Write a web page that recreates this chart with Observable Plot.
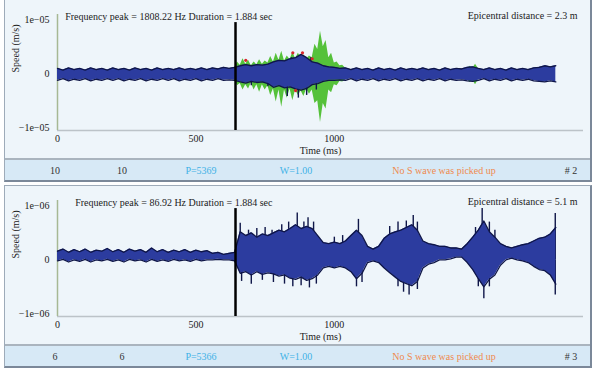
<!DOCTYPE html>
<html><head><meta charset="utf-8">
<script src="https://cdn.jsdelivr.net/npm/d3@7"></script>
<script src="https://cdn.jsdelivr.net/npm/@observablehq/plot@0.6"></script>
<style>
body{margin:0;background:#fff;width:600px;height:371px;overflow:hidden;position:relative;font-family:"Liberation Serif",serif;}
.panel{position:absolute;left:4px;width:585px;border-left:1px solid #9eabb9;border-top:1px solid #9eabb9;border-right:2px solid #7b8899;border-bottom:2px solid #7b8899;background:#eef5fa;}
.plotarea{height:158px;position:relative}
.plotarea svg{display:block}
.sep{height:2px;background:#aab4be}
.footer{height:20px;background:#d7e9f6;position:relative;font-size:10px;color:#333}
.footer span{position:absolute;top:50%;transform:translate(-50%,-50%);white-space:nowrap}
</style></head>
<body>
<div class="panel" id="p1" style="top:-1px"><div class="plotarea"></div><div class="sep"></div><div class="footer"></div></div>
<div class="panel" id="p2" style="top:185px"><div class="plotarea"></div><div class="sep"></div><div class="footer"></div></div>
<script>
// sample times (ms)
const times = [0,20,40,60,80,100,120,140,160,180,200,220,240,260,280,300,320,340,360,380,400,420,440,460,480,500,520,540,560,580,600,620,
640,660,680,700,720,740,760,780,800,820,840,860,880,900,920,940,960,980,1000,1020,
1040,1060,1080,1100,1120,1140,1160,1180,1200,1220,1240,1260,1280,1300,1320,1340,1360,1380,1400,1420,
1440,1460,1480,1500,1520,1540,1560,1580,1600,1620,1640,1660,1680,1700,1720,1740,1760,1780,1800];

// Panel #2 (epicentral 2.3 m): envelope in units of 1e-05 m/s
const p1Upper = [0.10,0.07,0.11,0.08,0.10,0.07,0.11,0.08,0.10,0.07,0.11,0.08,0.10,0.07,0.11,0.08,0.10,0.07,0.11,0.08,
0.10,0.08,0.11,0.08,0.10,0.08,0.11,0.08,0.11,0.09,0.12,0.10,
0.12,0.15,0.17,0.15,0.17,0.16,0.18,0.22,0.25,0.24,0.28,0.30,0.36,0.30,0.22,0.20,0.15,0.13,0.12,0.10,
0.11,0.08,0.11,0.08,0.10,0.07,0.11,0.08,0.10,0.07,0.11,0.08,0.10,0.08,0.11,0.08,0.10,0.07,0.11,0.08,
0.10,0.09,0.12,0.13,0.10,0.08,0.11,0.08,0.10,0.07,0.11,0.08,0.10,0.08,0.11,0.12,0.15,0.13,0.15];
const p1Lower = [-0.12,-0.09,-0.13,-0.10,-0.12,-0.09,-0.13,-0.10,-0.12,-0.09,-0.12,-0.09,-0.13,-0.10,-0.12,-0.09,-0.13,-0.10,-0.12,-0.09,
-0.12,-0.09,-0.13,-0.10,-0.12,-0.09,-0.13,-0.10,-0.12,-0.09,-0.12,-0.11,
-0.12,-0.15,-0.17,-0.14,-0.16,-0.15,-0.18,-0.25,-0.22,-0.26,-0.24,-0.28,-0.30,-0.27,-0.20,-0.18,-0.14,-0.12,-0.12,-0.11,
-0.12,-0.09,-0.13,-0.10,-0.12,-0.09,-0.13,-0.10,-0.12,-0.09,-0.13,-0.10,-0.12,-0.09,-0.13,-0.10,-0.12,-0.09,-0.13,-0.10,
-0.12,-0.11,-0.13,-0.14,-0.12,-0.09,-0.13,-0.10,-0.12,-0.09,-0.13,-0.10,-0.12,-0.10,-0.13,-0.14,-0.15,-0.13,-0.15];
// green component (finer sampling, 10 ms) and a small late burst
const p1GreenTimes = [640,650,660,670,680,690,700,710,720,730,740,750,760,770,780,790,800,810,820,830,840,850,860,870,880,890,900,910,920,930,940,950,960,970,980,990,1000,1010,1020,1030,1040,1050,1480,1490,1500,1510,1520];
const p1GreenUpper = [0.10,0.22,0.16,0.28,0.18,0.25,0.15,0.22,0.17,0.26,0.18,0.24,0.20,0.32,0.22,0.38,0.25,0.42,0.24,0.33,0.26,0.40,0.28,0.38,0.30,0.35,0.27,0.33,0.30,0.55,0.45,0.79,0.50,0.62,0.30,0.38,0.20,0.22,0.15,0.16,0.11,null,0.09,0.14,0.10,0.18,0.10];
const p1GreenLower = [-0.10,-0.22,-0.18,-0.30,-0.20,-0.28,-0.17,-0.30,-0.20,-0.34,-0.20,-0.30,-0.22,-0.40,-0.28,-0.52,-0.30,-0.62,-0.30,-0.45,-0.28,-0.50,-0.30,-0.40,-0.32,-0.42,-0.28,-0.38,-0.30,-0.55,-0.50,-0.90,-0.55,-0.65,-0.30,-0.35,-0.20,-0.22,-0.14,-0.15,-0.12,null,-0.10,-0.16,-0.12,-0.20,-0.11];
const p1RedTimes = [680,850,885,920,860];
const p1RedValues = [0.25,0.39,0.39,0.28,-0.31];
// dark spikes sticking out of the band (time, tip value)
const p1SpikeTimes = [700,760,830,845,870,900,915,935];
const p1SpikeTips = [-0.22,-0.24,-0.42,0.30,-0.45,-0.40,0.30,-0.30];

// Panel #3 (epicentral 5.1 m): envelope in units of 1e-06 m/s
const p2Upper = [0.16,0.20,0.14,0.19,0.15,0.20,0.14,0.18,0.16,0.21,0.15,0.19,0.14,0.20,0.16,0.19,0.14,0.22,0.15,0.19,
0.14,0.18,0.15,0.19,0.14,0.18,0.15,0.17,0.12,0.14,0.10,0.12,
0.14,0.52,0.45,0.50,0.42,0.48,0.45,0.50,0.55,0.52,0.58,0.65,0.58,0.62,0.58,0.45,0.32,0.30,0.33,0.30,
0.35,0.45,0.55,0.45,0.25,0.20,0.25,0.40,0.48,0.52,0.55,0.60,0.65,0.55,0.35,0.30,0.28,0.25,0.25,0.22,
0.22,0.20,0.30,0.42,0.55,0.72,0.52,0.42,0.30,0.25,0.22,0.25,0.28,0.30,0.35,0.40,0.42,0.48,0.60];
const p2Lower = [-0.02,0.01,-0.04,0.00,-0.03,0.01,-0.04,0.00,-0.02,0.01,-0.03,0.00,-0.04,0.01,-0.02,0.00,-0.04,0.01,-0.03,0.00,
-0.03,0.01,-0.02,0.00,-0.03,0.01,-0.02,0.00,0.00,0.01,0.00,0.00,
-0.02,-0.25,-0.22,-0.28,-0.22,-0.27,-0.24,-0.26,-0.30,-0.28,-0.34,-0.36,-0.32,-0.38,-0.35,-0.28,-0.15,-0.12,-0.15,-0.12,
-0.15,-0.22,-0.35,-0.25,-0.05,-0.02,-0.05,-0.15,-0.24,-0.32,-0.40,-0.44,-0.48,-0.40,-0.15,-0.08,-0.05,0.00,0.00,0.02,
0.05,0.05,-0.05,-0.18,-0.35,-0.50,-0.36,-0.28,-0.10,0.00,0.03,0.00,-0.02,-0.05,-0.12,-0.18,-0.20,-0.28,-0.45];
const p2SpikeTimes = [660,690,720,750,775,810,835,866,890,905,925,1000,1030,1087,1200,1230,1260,1285,1300,1510,1534,1560,1580,1798,
665,700,740,780,820,850,880,910,935,1080,1100,1230,1250,1270,1300,1520,1540,1560,1798];
const p2SpikeTips = [0.68,0.55,0.58,0.60,0.55,0.65,0.70,0.87,0.70,0.78,0.70,0.42,0.45,0.75,0.62,0.70,0.72,0.82,0.70,0.60,0.95,0.70,0.55,0.86,
-0.40,-0.45,-0.38,-0.42,-0.45,-0.50,-0.48,-0.52,-0.45,-0.50,-0.42,-0.50,-0.60,-0.65,-0.55,-0.50,-0.72,-0.50,-0.65];

const pickTime = 643;
const xTicks = [0, 500, 1000];
const yTicks = [-1, 0, 1];
const p1YLabels = ["\u22121e\u221205", "0", "1e\u221205"];
const p2YLabels = ["\u22121e\u221206", "0", "1e\u221206"];
const p1Title = "Frequency peak = 1808.22 Hz Duration = 1.884 sec";
const p2Title = "Frequency peak = 86.92 Hz Duration = 1.884 sec";
const p1Dist = "Epicentral distance = 2.3 m";
const p2Dist = "Epicentral distance = 5.1 m";
const p1Footer = ["10", "10", "P=5369", "W=1.00", "No S wave was picked up", "# 2"];
const p2Footer = ["6", "6", "P=5366", "W=1.00", "No S wave was picked up", "# 3"];
const footerColors = ["#333", "#333", "#3fb2e6", "#3fb2e6", "#ef8a4e", "#333"];
const footerX = [50, 117, 196, 291, 439, 566];

const BLUE = "#2c3c9f", EDGE = "#0f1648", GREEN = "#55c13a";

function makePlot(cfg) {
  const data = times.map((t, i) => ({t, hi: cfg.upper[i], lo: cfg.lower[i]}));
  const spikes = cfg.spikeT.map((t, i) => ({t, v: cfg.spikeV[i]}));
  const marks = [
    Plot.ruleY([-1.05], {stroke: "#bcc3c8", strokeWidth: 1.5}),
    Plot.ruleX([0], {stroke: "#a7b894", strokeWidth: 1.5}),
    Plot.axisX({ticks: xTicks, tickSize: 0, tickPadding: 4, label: null, tickFormat: d => String(d)}),
    Plot.axisY({ticks: yTicks, tickSize: 0, tickPadding: 8, label: null, tickFormat: d => cfg.yLabels[yTicks.indexOf(d)]})
  ];
  if (cfg.green) {
    const g = cfg.green.times.map((t, i) => ({t, hi: cfg.green.hi[i], lo: cfg.green.lo[i]}));
    marks.push(Plot.areaY(g, {x: "t", y1: "lo", y2: "hi", fill: GREEN}));
  }
  marks.push(
    Plot.ruleX(spikes, {x: "t", y1: 0, y2: "v", stroke: EDGE, strokeWidth: 1.4}),
    Plot.areaY(data, {x: "t", y1: "lo", y2: "hi", fill: BLUE}),
    Plot.line(data, {x: "t", y: "hi", stroke: EDGE, strokeWidth: 1.3}),
    Plot.line(data, {x: "t", y: "lo", stroke: EDGE, strokeWidth: 1.3})
  );
  if (cfg.green) {
    marks.push(Plot.dot(cfg.green.redT.map((t, i) => ({t, v: cfg.green.redV[i]})), {x: "t", y: "v", r: 1.6, fill: "#d8262b", stroke: "none"}));
  }
  marks.push(
    Plot.ruleX([pickTime], {y1: -1.05, y2: 0.95, stroke: "#000", strokeWidth: 2.5}),
    Plot.text([cfg.title], {frameAnchor: "top-left", dx: 215, dy: 2, textAnchor: "end", lineAnchor: "middle", fill: "#222", fontSize: 10}),
    Plot.text([cfg.dist], {frameAnchor: "top-right", dx: -6, dy: 1, textAnchor: "end", lineAnchor: "middle", fill: "#222", fontSize: 10}),
    Plot.text(["Time (ms)"], {frameAnchor: "bottom", dy: 20, lineAnchor: "middle", fill: "#222"}),
    Plot.text(["Speed (m/s)"], {frameAnchor: "left", dx: -42, rotate: -90, lineAnchor: "middle", fill: "#222"})
  );
  return Plot.plot({
    width: 585, height: 158, marginLeft: 52, marginRight: 7, marginTop: 14, marginBottom: 28,
    style: {fontFamily: '"Liberation Serif", serif', fontSize: "10px", background: "transparent", color: "#222"},
    x: {domain: [0, 1900]},
    y: {domain: [-1.05, 1.1]},
    marks
  });
}

function fill(id, plot, footer) {
  const p = document.getElementById(id);
  p.querySelector(".plotarea").appendChild(plot);
  const f = p.querySelector(".footer");
  footer.forEach((txt, i) => {
    const s = document.createElement("span");
    s.textContent = txt; s.style.left = footerX[i] + "px"; s.style.color = footerColors[i];
    f.appendChild(s);
  });
}

fill("p1", makePlot({upper: p1Upper, lower: p1Lower, yLabels: p1YLabels, title: p1Title, dist: p1Dist,
  spikeT: p1SpikeTimes, spikeV: p1SpikeTips,
  green: {times: p1GreenTimes, hi: p1GreenUpper, lo: p1GreenLower, redT: p1RedTimes, redV: p1RedValues}}), p1Footer);
fill("p2", makePlot({upper: p2Upper, lower: p2Lower, yLabels: p2YLabels, title: p2Title, dist: p2Dist,
  spikeT: p2SpikeTimes, spikeV: p2SpikeTips, green: null}), p2Footer);
</script>
</body></html>
